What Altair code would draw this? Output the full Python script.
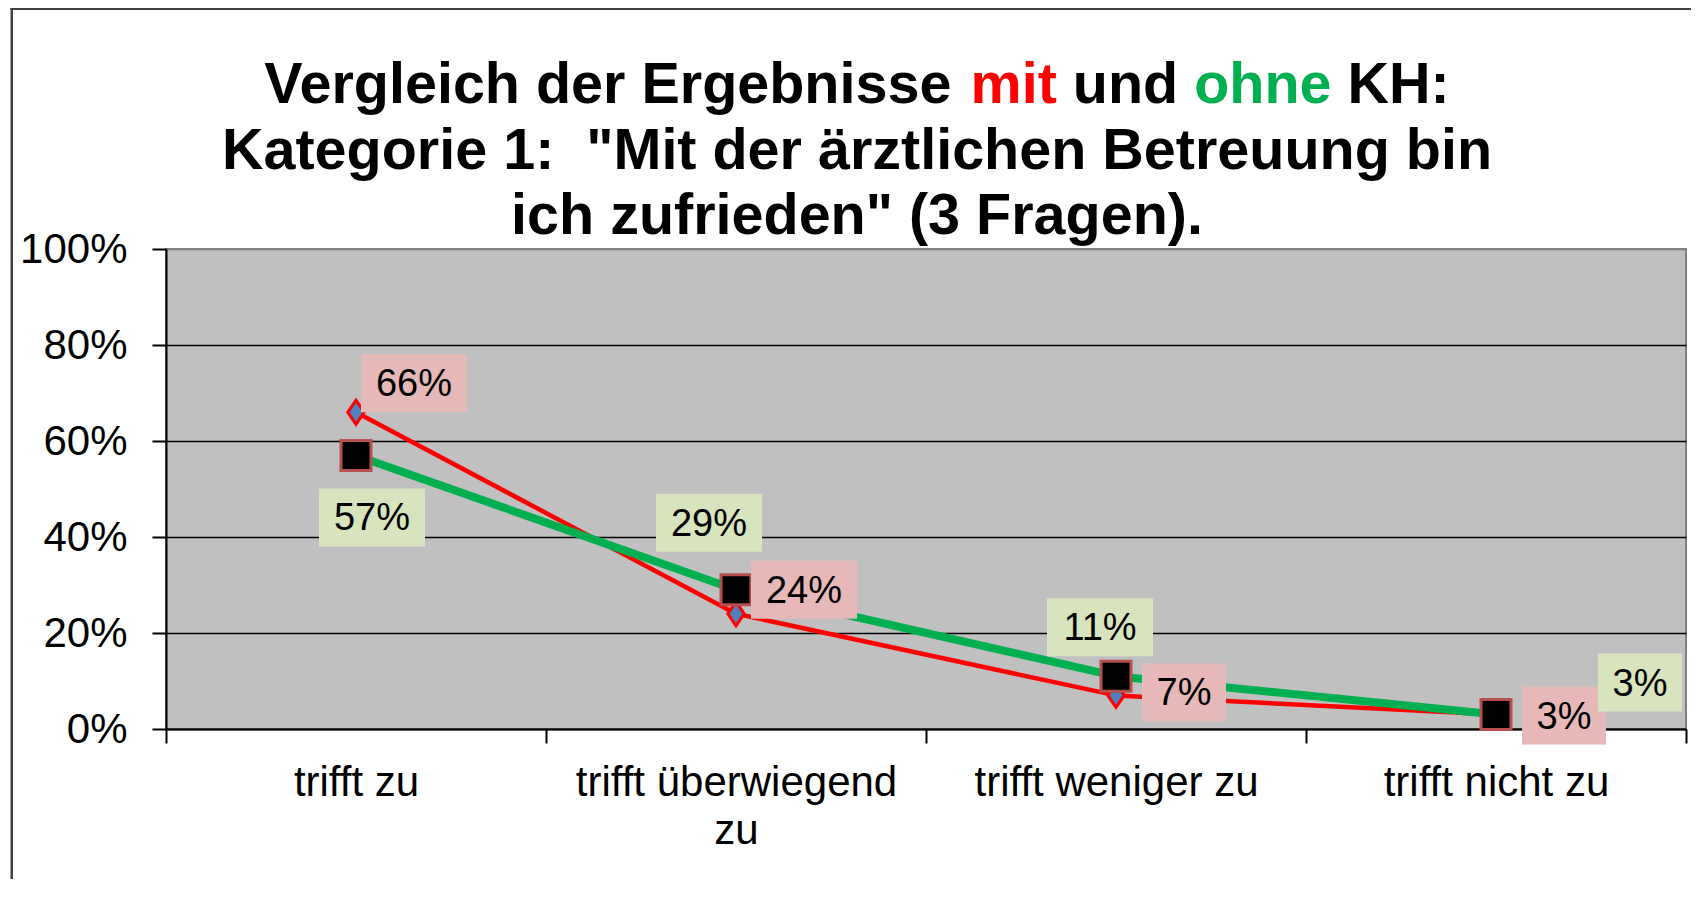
import json
import altair as alt
import pandas as pd

# ---------------- data ----------------
categories = ["trifft zu", "trifft überwiegend zu", "trifft weniger zu", "trifft nicht zu"]
mit_values = [0.66, 0.24, 0.07, 0.03]     # red series "mit KH"
ohne_values = [0.57, 0.29, 0.11, 0.03]    # green series "ohne KH"
y_tick_values = [0, 0.2, 0.4, 0.6, 0.8, 1.0]

title_line1 = [("Vergleich der Ergebnisse ", "black"), ("mit", "#FF0000"),
               (" und ", "black"), ("ohne", "#00B050"), (" KH:", "black")]
title_rest = ["Kategorie 1: \u00a0\"Mit der ärztlichen Betreuung bin",
              "ich zufrieden\" (3 Fragen)."]

# data-label placement (pixel offsets from the point, like moved Excel labels)
mit_label_dx = [58, 68, 68, 68]
mit_label_dy = [-29, -24, -3, 1]
ohne_label_dx = [16, -27, -16, 144]
ohne_label_dy = [62, -67, -49, -32]

# ---------------- styling ----------------
FONT = "Liberation Sans"
RED = "#FF0000"
GREEN = "#00B050"
W, H = 1520, 480
PAD = {"left": 158, "top": 241, "right": 7, "bottom": 158}
TITLE_SIZE = 57.5
LABEL_SIZE = 38

rows = []
for i, c in enumerate(categories):
    rows.append({"kategorie": c, "idx": i, "serie": "mit", "wert": mit_values[i]})
    rows.append({"kategorie": c, "idx": i, "serie": "ohne", "wert": ohne_values[i]})
df = pd.DataFrame(rows)

# wrapped category labels
wrapped = []
for c in categories:
    words = c.split(" ")
    if len(c) > 18:
        wrapped.append([" ".join(words[:-1]), words[-1]])
    else:
        wrapped.append(c)
label_expr = ("datum.value % 1 === 0 ? '' : "
              + json.dumps(wrapped, ensure_ascii=False) + "[floor(datum.value)]")

x_axis = alt.Axis(
    values=[k / 2 for k in range(2 * len(categories) + 1)],
    labelExpr=label_expr,
    tickOpacity={"condition": {"test": "datum.value % 1 !== 0", "value": 0}, "value": 1},
    tickSize=14, tickColor="black", tickWidth=2,
    domainColor="black", domainWidth=2,
    grid=False, title=None,
    labelFont=FONT, labelFontSize=42, labelColor="black", labelLimit=0,
    labelBaseline="alphabetic", labelPadding=52, labelLineHeight=48,
    labelOverlap=False, labelFlush=False, labelBound=False,
)
y_axis = alt.Axis(
    values=y_tick_values, format=".0%",
    tickSize=14, tickColor="black", tickWidth=2,
    domainColor="black", domainWidth=2,
    grid=True, gridWidth=1.5,
    gridColor={"condition": {"test": "datum.value >= 1", "value": "#808080"}, "value": "black"},
    title=None,
    labelFont=FONT, labelFontSize=42, labelColor="black", labelPadding=25,
)

X = alt.X("pos:Q", scale=alt.Scale(domain=[0, len(categories)], nice=False, zero=False), axis=x_axis)
Y = alt.Y("wert:Q", scale=alt.Scale(domain=[0, 1], nice=False), axis=y_axis)

base = alt.Chart(df).transform_calculate(pos="datum.idx + 0.5")

red_line = base.transform_filter("datum.serie == 'mit'").mark_line(
    color=RED, strokeWidth=4.5, strokeJoin="round").encode(x=X, y=Y)
red_pts = base.transform_filter("datum.serie == 'mit'").mark_point(
    shape="M0,-2.2L1.5,0L0,2.2L-1.5,0Z", size=120, filled=True, fill="#4F81BD",
    stroke=RED, strokeWidth=3, opacity=1, fillOpacity=1, strokeOpacity=1).encode(x=X, y=Y)
green_line = base.transform_filter("datum.serie == 'ohne'").mark_line(
    color=GREEN, strokeWidth=8, strokeJoin="round").encode(x=X, y=Y)
green_pts = base.transform_filter("datum.serie == 'ohne'").mark_point(
    shape="square", size=900, filled=True, fill="black",
    stroke="#B5504D", strokeWidth=3, opacity=1, fillOpacity=1, strokeOpacity=1).encode(x=X, y=Y)

layers = [red_line, red_pts, green_line, green_pts]


def text_width(v):
    s = f"{round(v * 100)}%"
    return (0.556 * (len(s) - 1) + 0.889) * LABEL_SIZE


for serie, vals, dxs, dys, bg in [("mit", mit_values, mit_label_dx, mit_label_dy, "#E6B9B8"),
                                   ("ohne", ohne_values, ohne_label_dx, ohne_label_dy, "#D7E4BD")]:
    for i in range(len(categories)):
        hw = round(text_width(vals[i]) / 2 + 15)
        hh = 29
        path = f"M{-hw},{-hh}L{hw},{-hh}L{hw},{hh}L{-hw},{hh}Z"
        sel = base.transform_filter(f"datum.serie == '{serie}' && datum.idx == {i}")
        box = sel.mark_point(shape=path, size=4, filled=True, fill=bg, opacity=1,
                             fillOpacity=1, strokeOpacity=0,
                             xOffset=dxs[i], yOffset=dys[i]).encode(x=X, y=Y)
        txt = sel.mark_text(font=FONT, fontSize=LABEL_SIZE, color="black",
                            align="center", baseline="middle",
                            dx=dxs[i], dy=dys[i] + 2).encode(
            x=X, y=Y, text=alt.Text("wert:Q", format=".0%"))
        layers += [box, txt]

# ---------------- title (multi-coloured first line) ----------------
bold_w = {"V": 667, "e": 556, "r": 389, "g": 611, "l": 278, "i": 278, "c": 556, "h": 611,
          " ": 278, "d": 611, "E": 667, "b": 611, "n": 611, "s": 556, "m": 889, "t": 333,
          "u": 611, "o": 611, "K": 722, "H": 722, ":": 333}


def bold_width(s):
    return sum(bold_w.get(ch, 600) for ch in s) / 1000 * TITLE_SIZE


title_center = 691
total = sum(bold_width(piece) for piece, _ in title_line1)
xpos = title_center - total / 2
one = alt.Data(values=[{}])
for piece, col in title_line1:
    lead = len(piece) - len(piece.lstrip(" "))
    layers.append(alt.Chart(one).mark_text(
        text=piece.strip(" "), color=col, font=FONT, fontSize=TITLE_SIZE,
        fontWeight="bold", align="left", baseline="alphabetic").encode(
        x=alt.value(xpos + bold_width(" " * lead)), y=alt.value(-146)))
    xpos += bold_width(piece)
for k, line in enumerate(title_rest):
    layers.append(alt.Chart(one).mark_text(
        text=line, color="black", font=FONT, fontSize=TITLE_SIZE, fontWeight="bold",
        align="center", baseline="alphabetic").encode(
        x=alt.value(title_center), y=alt.value(-80 + 65 * k)))

# outer chart frame: thin filled bars for its left and top edges
frame_col = "#404040"
layers.append(alt.Chart(one).mark_rect(fill=frame_col, strokeWidth=0).encode(
    x=alt.value(-155.5), x2=alt.value(-153), y=alt.value(-241.5), y2=alt.value(H + 150)))
layers.append(alt.Chart(one).mark_rect(fill=frame_col, strokeWidth=0).encode(
    x=alt.value(-155.5), x2=alt.value(W + 5), y=alt.value(-241.5), y2=alt.value(-239)))

chart = alt.layer(*layers).properties(
    width=W, height=H,
    autosize=alt.AutoSizeParams(type="none"),
    padding=PAD,
    background="white",
).configure_view(fill="#C0C0C0", stroke="#808080", strokeWidth=2)

chart.save("out.html", embed_options={"renderer": "svg", "actions": False})
